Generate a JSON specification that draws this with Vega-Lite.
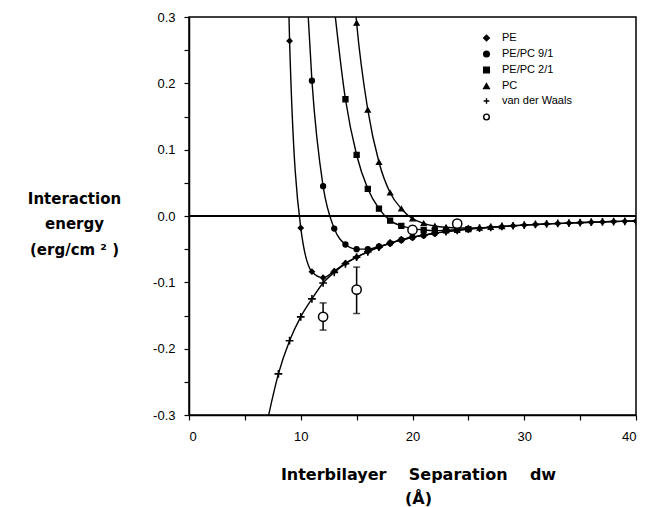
{
  "$schema": "https://vega.github.io/schema/vega-lite/v6.json",
  "width": 447,
  "height": 398,
  "autosize": {"type": "none"},
  "padding": {"left": 189, "top": 17, "right": 12, "bottom": 92},
  "background": "white",
  "config": {
    "view": {"stroke": "black", "strokeWidth": 1.5},
    "font": "Liberation Sans",
    "axis": {"domainColor": "black", "domainWidth": 1.5, "tickColor": "black", "tickWidth": 1.2, "grid": false, "labelColor": "black", "titleColor": "black"}
  },
  "datasets": {
    "pts": [
      {"series": "PE", "d": 8.8, "E": 0.40, "m": 0},
      {"series": "PE", "d": 9, "E": 0.264, "m": 1},
      {"series": "PE", "d": 10, "E": -0.018, "m": 1},
      {"series": "PE", "d": 11, "E": -0.084, "m": 1},
      {"series": "PE", "d": 12, "E": -0.093, "m": 1},
      {"series": "PE", "d": 13, "E": -0.083, "m": 1},
      {"series": "PE", "d": 14, "E": -0.071, "m": 1},
      {"series": "PE", "d": 15, "E": -0.062, "m": 1},
      {"series": "PE", "d": 16, "E": -0.054, "m": 1},
      {"series": "PE", "d": 17, "E": -0.047, "m": 1},
      {"series": "PE", "d": 18, "E": -0.041, "m": 1},
      {"series": "PE", "d": 19, "E": -0.036, "m": 1},
      {"series": "PE", "d": 20, "E": -0.032, "m": 1},
      {"series": "PE", "d": 21, "E": -0.029, "m": 1},
      {"series": "PE", "d": 22, "E": -0.026, "m": 1},
      {"series": "PE", "d": 23, "E": -0.0235, "m": 1},
      {"series": "PE", "d": 24, "E": -0.0215, "m": 1},
      {"series": "PE", "d": 25, "E": -0.0198, "m": 1},
      {"series": "PE", "d": 26, "E": -0.0183, "m": 1},
      {"series": "PE", "d": 27, "E": -0.017, "m": 1},
      {"series": "PE", "d": 28, "E": -0.0158, "m": 1},
      {"series": "PE", "d": 29, "E": -0.0147, "m": 1},
      {"series": "PE", "d": 30, "E": -0.0137, "m": 1},
      {"series": "PE", "d": 31, "E": -0.0128, "m": 1},
      {"series": "PE", "d": 32, "E": -0.012, "m": 1},
      {"series": "PE", "d": 33, "E": -0.0113, "m": 1},
      {"series": "PE", "d": 34, "E": -0.0106, "m": 1},
      {"series": "PE", "d": 35, "E": -0.01, "m": 1},
      {"series": "PE", "d": 36, "E": -0.0094, "m": 1},
      {"series": "PE", "d": 37, "E": -0.0089, "m": 1},
      {"series": "PE", "d": 38, "E": -0.0084, "m": 1},
      {"series": "PE", "d": 39, "E": -0.008, "m": 1},
      {"series": "PE", "d": 40, "E": -0.0076, "m": 1},

      {"series": "PE/PC 9/1", "d": 10.5, "E": 0.35, "m": 0},
      {"series": "PE/PC 9/1", "d": 11, "E": 0.204, "m": 1},
      {"series": "PE/PC 9/1", "d": 12, "E": 0.045, "m": 1},
      {"series": "PE/PC 9/1", "d": 13, "E": -0.019, "m": 1},
      {"series": "PE/PC 9/1", "d": 14, "E": -0.043, "m": 1},
      {"series": "PE/PC 9/1", "d": 15, "E": -0.050, "m": 1},
      {"series": "PE/PC 9/1", "d": 16, "E": -0.050, "m": 1},
      {"series": "PE/PC 9/1", "d": 17, "E": -0.046, "m": 1},
      {"series": "PE/PC 9/1", "d": 18, "E": -0.041, "m": 1},
      {"series": "PE/PC 9/1", "d": 19, "E": -0.036, "m": 1},
      {"series": "PE/PC 9/1", "d": 20, "E": -0.032, "m": 1},
      {"series": "PE/PC 9/1", "d": 21, "E": -0.029, "m": 1},
      {"series": "PE/PC 9/1", "d": 22, "E": -0.026, "m": 1},

      {"series": "PE/PC 2/1", "d": 12.9, "E": 0.33, "m": 0},
      {"series": "PE/PC 2/1", "d": 14, "E": 0.176, "m": 1},
      {"series": "PE/PC 2/1", "d": 15, "E": 0.092, "m": 1},
      {"series": "PE/PC 2/1", "d": 16, "E": 0.041, "m": 1},
      {"series": "PE/PC 2/1", "d": 17, "E": 0.011, "m": 1},
      {"series": "PE/PC 2/1", "d": 18, "E": -0.007, "m": 1},
      {"series": "PE/PC 2/1", "d": 19, "E": -0.015, "m": 1},
      {"series": "PE/PC 2/1", "d": 20, "E": -0.019, "m": 1},
      {"series": "PE/PC 2/1", "d": 21, "E": -0.021, "m": 1},
      {"series": "PE/PC 2/1", "d": 22, "E": -0.022, "m": 1},
      {"series": "PE/PC 2/1", "d": 23, "E": -0.0215, "m": 1},
      {"series": "PE/PC 2/1", "d": 24, "E": -0.0208, "m": 1},
      {"series": "PE/PC 2/1", "d": 25, "E": -0.0198, "m": 1},

      {"series": "PC", "d": 14.9, "E": 0.31, "m": 0},
      {"series": "PC", "d": 15, "E": 0.291, "m": 1},
      {"series": "PC", "d": 16, "E": 0.160, "m": 1},
      {"series": "PC", "d": 17, "E": 0.081, "m": 1},
      {"series": "PC", "d": 18, "E": 0.035, "m": 1},
      {"series": "PC", "d": 19, "E": 0.011, "m": 1},
      {"series": "PC", "d": 20, "E": -0.004, "m": 1},
      {"series": "PC", "d": 21, "E": -0.011, "m": 1},
      {"series": "PC", "d": 22, "E": -0.015, "m": 1},
      {"series": "PC", "d": 23, "E": -0.017, "m": 1},
      {"series": "PC", "d": 24, "E": -0.018, "m": 1},
      {"series": "PC", "d": 25, "E": -0.0182, "m": 1},
      {"series": "PC", "d": 26, "E": -0.018, "m": 1},
      {"series": "PC", "d": 27, "E": -0.017, "m": 1},
      {"series": "PC", "d": 28, "E": -0.0158, "m": 1},

      {"series": "van der Waals", "d": 7.0, "E": -0.31, "m": 0},
      {"series": "van der Waals", "d": 8, "E": -0.238, "m": 1},
      {"series": "van der Waals", "d": 9, "E": -0.188, "m": 1},
      {"series": "van der Waals", "d": 10, "E": -0.152, "m": 1},
      {"series": "van der Waals", "d": 11, "E": -0.125, "m": 1},
      {"series": "van der Waals", "d": 12, "E": -0.101, "m": 1},
      {"series": "van der Waals", "d": 13, "E": -0.085, "m": 1},
      {"series": "van der Waals", "d": 14, "E": -0.072, "m": 1},
      {"series": "van der Waals", "d": 15, "E": -0.062, "m": 1},
      {"series": "van der Waals", "d": 16, "E": -0.054, "m": 1},
      {"series": "van der Waals", "d": 17, "E": -0.047, "m": 1},
      {"series": "van der Waals", "d": 18, "E": -0.041, "m": 1},
      {"series": "van der Waals", "d": 19, "E": -0.036, "m": 1},
      {"series": "van der Waals", "d": 20, "E": -0.032, "m": 1},
      {"series": "van der Waals", "d": 21, "E": -0.029, "m": 1},
      {"series": "van der Waals", "d": 22, "E": -0.026, "m": 1},
      {"series": "van der Waals", "d": 23, "E": -0.0235, "m": 1},
      {"series": "van der Waals", "d": 24, "E": -0.0215, "m": 1},
      {"series": "van der Waals", "d": 25, "E": -0.0198, "m": 1},
      {"series": "van der Waals", "d": 26, "E": -0.0183, "m": 1},
      {"series": "van der Waals", "d": 27, "E": -0.017, "m": 1},
      {"series": "van der Waals", "d": 28, "E": -0.0158, "m": 1},
      {"series": "van der Waals", "d": 29, "E": -0.0147, "m": 1},
      {"series": "van der Waals", "d": 30, "E": -0.0137, "m": 1},
      {"series": "van der Waals", "d": 31, "E": -0.0128, "m": 1},
      {"series": "van der Waals", "d": 32, "E": -0.012, "m": 1},
      {"series": "van der Waals", "d": 33, "E": -0.0113, "m": 1},
      {"series": "van der Waals", "d": 34, "E": -0.0106, "m": 1},
      {"series": "van der Waals", "d": 35, "E": -0.01, "m": 1},
      {"series": "van der Waals", "d": 36, "E": -0.0094, "m": 1},
      {"series": "van der Waals", "d": 37, "E": -0.0089, "m": 1},
      {"series": "van der Waals", "d": 38, "E": -0.0084, "m": 1},
      {"series": "van der Waals", "d": 39, "E": -0.008, "m": 1},
      {"series": "van der Waals", "d": 40, "E": -0.0076, "m": 1},

      {"series": "exp", "d": 12, "E": -0.152, "lo": -0.172, "hi": -0.131, "m": 1},
      {"series": "exp", "d": 15, "E": -0.111, "lo": -0.147, "hi": -0.077, "m": 1},
      {"series": "exp", "d": 20, "E": -0.021, "m": 1},
      {"series": "exp", "d": 24, "E": -0.0115, "m": 1}
    ]
  },
  "data": {"name": "pts"},
  "encoding": {
    "x": {
      "field": "d", "type": "quantitative",
      "scale": {"domain": [0, 40], "nice": false, "zero": false},
      "axis": {
        "values": [0, 5, 10, 15, 20, 25, 30, 35, 40],
        "labelExpr": "datum.value % 10 == 0 ? datum.label : ''",
        "labelFont": "Liberation Sans", "labelFontSize": 13, "labelPadding": 10, "tickSize": 5,
        "title": ["Interbilayer \u00a0\u00a0 Separation \u00a0\u00a0 dw", "(Å)"],
        "titleFont": "DejaVu Sans", "titleFontWeight": "bold", "titleFontSize": 16,
        "titleLineHeight": 24, "titleBaseline": "top", "titleX": 229, "titleY": 51
      }
    },
    "y": {
      "field": "E", "type": "quantitative",
      "scale": {"domain": [-0.3, 0.3], "nice": false, "zero": false},
      "axis": {
        "values": [-0.3, -0.25, -0.2, -0.15, -0.1, -0.05, 0, 0.05, 0.1, 0.15, 0.2, 0.25, 0.3],
        "labelExpr": "abs(round(datum.value * 20)) % 2 == 0 ? replace(format(datum.value, '.1f'), '−', '-') : ''",
        "labelFont": "Liberation Sans", "labelFontSize": 13, "labelPadding": 9, "tickSize": 5,
        "title": ["Interaction", "energy", "(erg/cm ² )"],
        "titleFont": "DejaVu Sans", "titleFontWeight": "bold", "titleFontSize": 15,
        "titleAngle": 0, "titleAlign": "center", "titleBaseline": "middle",
        "titleLineHeight": 25.5, "titleX": -115, "titleY": 181
      }
    },
    "shape": {
      "field": "series", "type": "nominal",
      "scale": {
        "domain": ["PE", "PE/PC 9/1", "PE/PC 2/1", "PC", "van der Waals", "exp"],
        "range": ["diamond", "circle", "square", "triangle-up", "M-1,0H1M0,-1V1", "circle"]
      },
      "legend": {
        "title": null, "orient": "none", "legendX": 292, "legendY": 15.5,
        "labelExpr": "datum.label == 'exp' ? '' : datum.label",
        "labelFont": "Liberation Sans", "labelFontSize": 11, "labelColor": "black",
        "labelOffset": 10, "rowPadding": 3, "symbolStrokeWidth": 1.4, "symbolSize": 32
      }
    },
    "fill": {
      "field": "series", "type": "nominal",
      "scale": {
        "domain": ["PE", "PE/PC 9/1", "PE/PC 2/1", "PC", "van der Waals", "exp"],
        "range": ["black", "black", "black", "black", "transparent", "white"]
      }
    },
    "stroke": {
      "field": "series", "type": "nominal",
      "scale": {
        "domain": ["PE", "PE/PC 9/1", "PE/PC 2/1", "PC", "van der Waals", "exp"],
        "range": ["black", "black", "black", "black", "black", "black"]
      }
    }
  },
  "layer": [
    {
      "mark": {"type": "rule", "color": "black", "strokeWidth": 1.6},
      "encoding": {"y": {"datum": 0}, "x": null, "shape": null, "fill": null, "stroke": null}
    },
    {
      "transform": [{"filter": "datum.series != 'exp'"}],
      "mark": {"type": "line", "color": "black", "strokeWidth": 1.4, "interpolate": "monotone", "clip": true},
      "encoding": {"detail": {"field": "series", "type": "nominal"}, "shape": null, "fill": null, "stroke": null}
    },
    {
      "transform": [{"filter": "datum.lo != null"}],
      "mark": {"type": "rule", "color": "black", "strokeWidth": 1.5},
      "encoding": {"y": {"field": "lo", "type": "quantitative"}, "y2": {"field": "hi"}, "shape": null, "fill": null, "stroke": null}
    },
    {
      "transform": [{"filter": "datum.lo != null"}],
      "mark": {"type": "tick", "orient": "horizontal", "color": "black", "size": 7, "thickness": 1.5},
      "encoding": {"y": {"field": "lo", "type": "quantitative"}, "shape": null, "fill": null, "stroke": null}
    },
    {
      "transform": [{"filter": "datum.lo != null"}],
      "mark": {"type": "tick", "orient": "horizontal", "color": "black", "size": 7, "thickness": 1.5},
      "encoding": {"y": {"field": "hi", "type": "quantitative"}, "shape": null, "fill": null, "stroke": null}
    },
    {
      "transform": [{"filter": "datum.m == 1 && datum.series != 'exp' && datum.series != 'van der Waals'"}],
      "mark": {"type": "point", "strokeWidth": 1.2, "opacity": 1, "size": 26, "clip": true}
    },
    {
      "transform": [{"filter": "datum.m == 1 && datum.series == 'van der Waals'"}],
      "mark": {"type": "point", "strokeWidth": 1.6, "opacity": 1, "size": 60, "clip": true}
    },
    {
      "transform": [{"filter": "datum.series == 'exp'"}],
      "mark": {"type": "point", "strokeWidth": 1.5, "opacity": 1, "size": 85, "clip": true}
    }
  ]
}
